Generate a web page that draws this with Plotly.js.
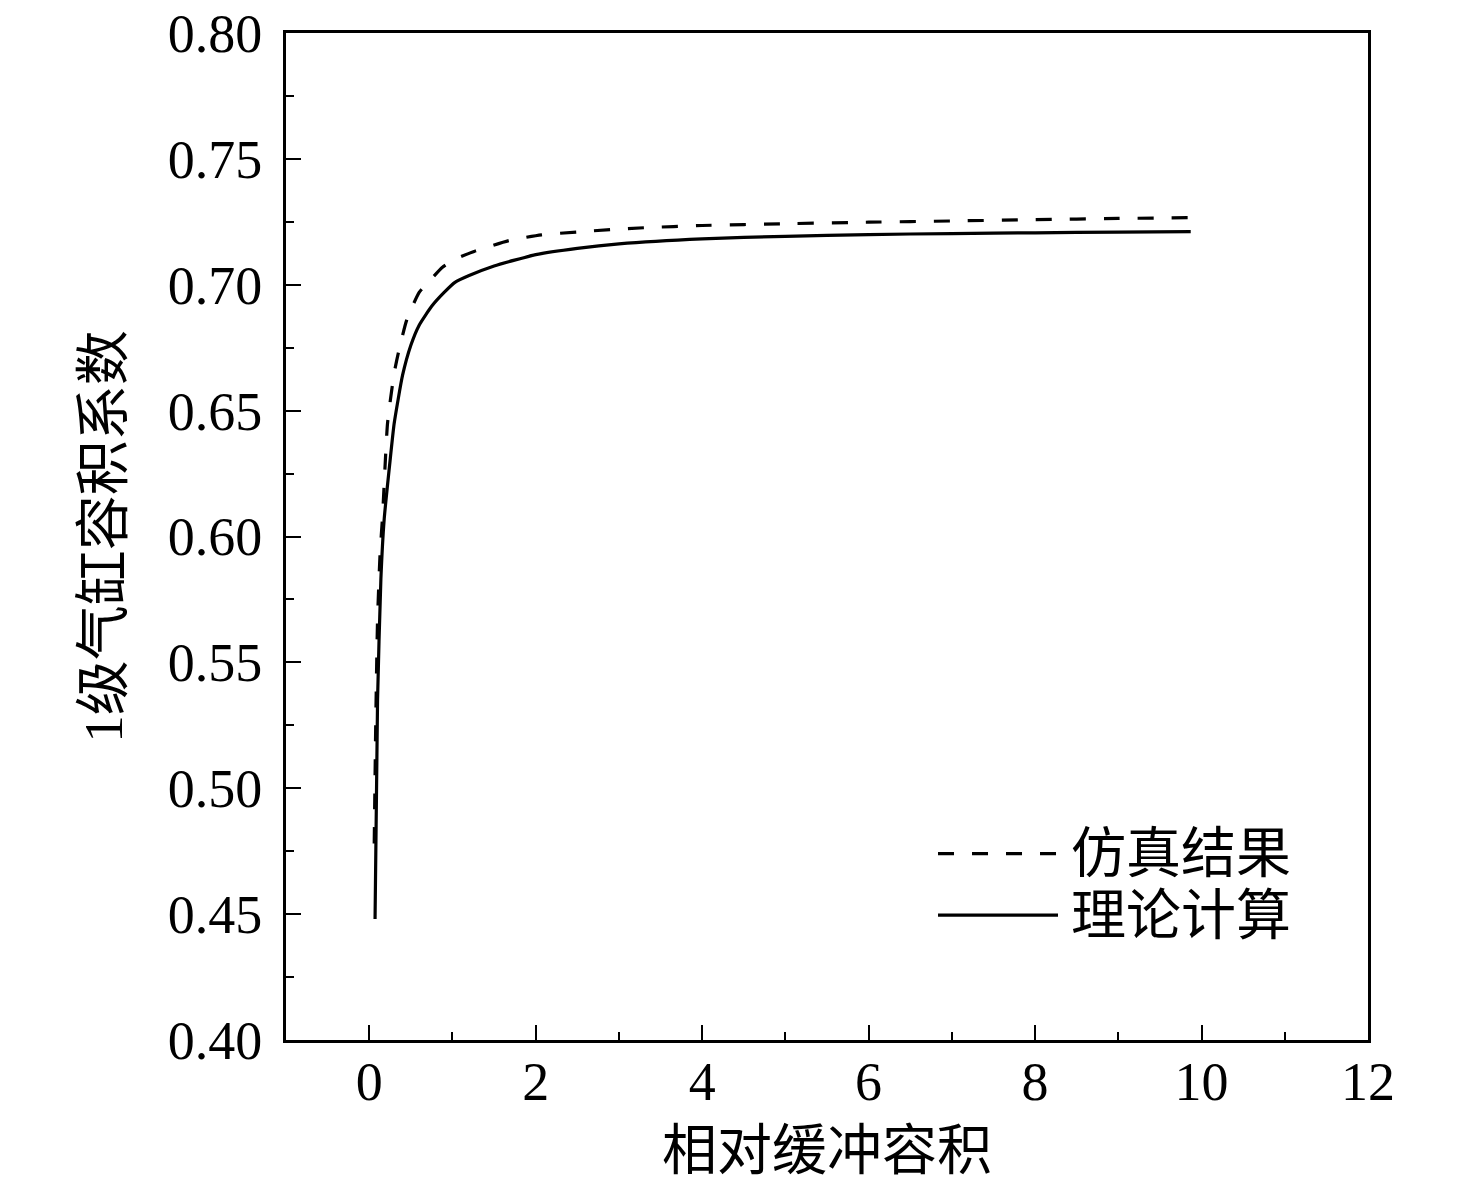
<!DOCTYPE html>
<html>
<head>
<meta charset="utf-8">
<script src="https://cdn.plot.ly/plotly-3.0.1.min.js"></script>
<style>html,body{margin:0;padding:0;background:#fff;}#chart{width:1476px;height:1197px;}</style>
</head>
<body>
<div id="chart"></div>
<script>
// Series names
const seriesNames = ["仿真结果", "理论计算"];

// 仿真结果 (dashed)
const simX = [0.06, 0.08, 0.1, 0.13, 0.16, 0.22, 0.3, 0.35, 0.45, 0.6, 0.75, 0.88, 1.05, 1.26, 1.68, 2.07, 2.5, 2.9, 3.3, 4, 5, 6, 7, 8, 9, 9.87];
const simY = [0.478, 0.53, 0.567, 0.593, 0.608, 0.645, 0.665, 0.673, 0.686, 0.697, 0.7025, 0.707, 0.7105, 0.7133, 0.7176, 0.7199, 0.721, 0.722, 0.7227, 0.7236, 0.7243, 0.7249, 0.7254, 0.7259, 0.7264, 0.7267];

// 理论计算 (solid)
const theoX = [0.07, 0.1, 0.14, 0.18, 0.25, 0.3, 0.4, 0.5, 0.6, 0.75, 0.9, 1.03, 1.2, 1.5, 2.0, 2.5, 3, 4, 5, 6, 7, 8, 9, 9.87];
const theoY = [0.448, 0.535, 0.583, 0.607, 0.630, 0.645, 0.664, 0.676, 0.684, 0.6915, 0.697, 0.701, 0.7037, 0.7075, 0.712, 0.7145, 0.7163, 0.7183, 0.7193, 0.72, 0.7204, 0.7207, 0.721, 0.7212];

// Tick labels
const xTickVals = [0, 2, 4, 6, 8, 10, 12];
const xTickText = ["0", "2", "4", "6", "8", "10", "12"];
const yTickVals = [0.40, 0.45, 0.50, 0.55, 0.60, 0.65, 0.70, 0.75, 0.80];
const yTickText = ["0.40", "0.45", "0.50", "0.55", "0.60", "0.65", "0.70", "0.75", "0.80"];

const xTitle = "相对缓冲容积";
const yTitle = "1级气缸容积系数";

const FONT = '"Liberation Serif", "Times New Roman", "Noto Sans CJK SC", serif';
const CJK = '"Liberation Serif", "Noto Sans CJK SC", serif';
const DASH = "16px,18px";

const traces = [
  {x: simX, y: simY, name: seriesNames[0], mode: "lines", showlegend: false,
   line: {color: "#000", width: 3.2, dash: DASH, shape: "spline", smoothing: 0.5}},
  {x: theoX, y: theoY, name: seriesNames[1], mode: "lines", showlegend: false,
   line: {color: "#000", width: 3.2, shape: "spline", smoothing: 0.5}}
];

const legY = [0.185, 0.124];
const layout = {
  width: 1476, height: 1197,
  paper_bgcolor: "#fff", plot_bgcolor: "#fff",
  margin: {l: 286, r: 108, t: 33, b: 157},
  font: {family: FONT, size: 54, color: "#000"},
  xaxis: {
    range: [-1, 12], tickvals: xTickVals, ticktext: xTickText,
    ticks: "inside", ticklen: 15, tickwidth: 2, tickcolor: "#000",
    minor: {tickvals: [1, 3, 5, 7, 9, 11], ticks: "inside", ticklen: 8, tickwidth: 2, tickcolor: "#000"},
    showline: true, linewidth: 3, linecolor: "#000", mirror: true,
    showgrid: false, zeroline: false, ticklabeloverflow: "allow",
    tickfont: {family: FONT, size: 54}, ticklabelstandoff: -8,
    title: {text: xTitle, font: {family: CJK, size: 55}, standoff: 20}
  },
  yaxis: {
    range: [0.3999, 0.8001], tickvals: yTickVals, ticktext: yTickText,
    ticks: "inside", ticklen: 15, tickwidth: 2, tickcolor: "#000",
    minor: {dtick: 0.025, ticks: "inside", ticklen: 8, tickwidth: 2, tickcolor: "#000"},
    showline: true, linewidth: 3, linecolor: "#000", mirror: true,
    showgrid: false, zeroline: false, ticklabeloverflow: "allow",
    tickfont: {family: FONT, size: 54}, ticklabelstandoff: 10,
    title: {text: yTitle, font: {family: CJK, size: 55}, standoff: 28}
  },
  shapes: [
    {type: "line", xref: "paper", yref: "paper", x0: 0.6026, x1: 0.7135, y0: legY[0], y1: legY[0],
     line: {color: "#000", width: 3.2, dash: DASH}},
    {type: "line", xref: "paper", yref: "paper", x0: 0.6026, x1: 0.7135, y0: legY[1], y1: legY[1],
     line: {color: "#000", width: 3.2}}
  ],
  annotations: [
    {xref: "paper", yref: "paper", x: 0.724, y: legY[0], xanchor: "left", yanchor: "middle",
     text: seriesNames[0], showarrow: false, font: {family: CJK, size: 55, color: "#000"}},
    {xref: "paper", yref: "paper", x: 0.724, y: legY[1], xanchor: "left", yanchor: "middle",
     text: seriesNames[1], showarrow: false, font: {family: CJK, size: 55, color: "#000"}}
  ]
};

Plotly.newPlot("chart", traces, layout, {displayModeBar: false, staticPlot: true});
</script>
</body>
</html>
